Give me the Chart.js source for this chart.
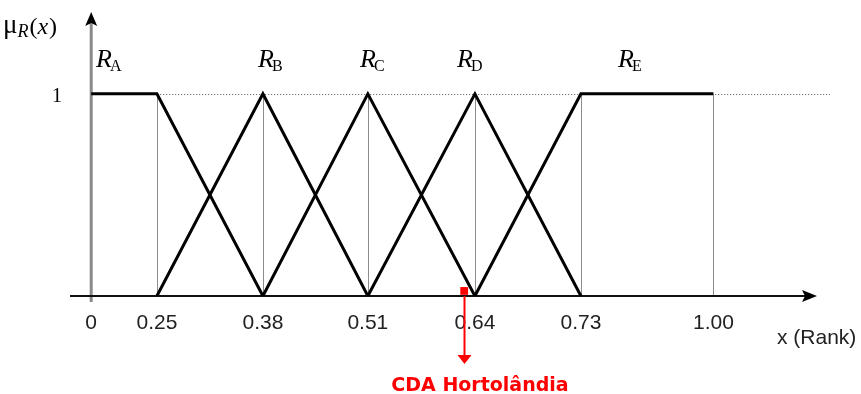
<!DOCTYPE html>
<html>
<head>
<meta charset="utf-8">
<script src="https://cdn.jsdelivr.net/npm/chart.js@4.4.1/dist/chart.umd.min.js"></script>
<style>
  html, body { margin: 0; padding: 0; background: #fff; }
  #wrap { width: 861px; height: 394px; }
</style>
</head>
<body>
<div id="wrap"><canvas id="chart"></canvas></div>
<script>
// breakpoints of the rank axis and their labels
const ranks = [0, 0.25, 0.38, 0.51, 0.64, 0.73, 1.00];
const tickLabels = ['0', '0.25', '0.38', '0.51', '0.64', '0.73', '1.00'];

// membership of each fuzzy set at every breakpoint (null = outside support)
const setNames = ['A', 'B', 'C', 'D', 'E'];
const muA = [1, 1, 0, null, null, null, null];
const muB = [null, 0, 1, 0, null, null, null];
const muC = [null, null, 0, 1, 0, null, null];
const muD = [null, null, null, 0, 1, 0, null];
const muE = [null, null, null, null, 0, 1, 1];

// the highlighted unit
const pointName = 'CDA Hortolândia';
const pointRank = [0.627];
const pointMu = [0.025];

// linear scale whose segments between breakpoints get their own widths
class RankScale extends Chart.LinearScale {
  _nodes() {
    const o = this.options;
    const v = [this.min].concat(o.breaks, [this.max]);
    const total = o.widths.reduce((a, b) => a + b, 0);
    const f = [0];
    o.widths.forEach(w => f.push(f[f.length - 1] + w / total));
    return { v, f };
  }
  getPixelForValue(value) {
    const { v, f } = this._nodes();
    let i = 0;
    while (i < v.length - 2 && value > v[i + 1]) i++;
    const t = (value - v[i]) / (v[i + 1] - v[i]);
    return this.getPixelForDecimal(f[i] + t * (f[i + 1] - f[i]));
  }
  getValueForPixel(pixel) {
    const { v, f } = this._nodes();
    const d = this.getDecimalForPixel(pixel);
    let i = 0;
    while (i < f.length - 2 && d > f[i + 1]) i++;
    const t = (d - f[i]) / (f[i + 1] - f[i]);
    return v[i] + t * (v[i + 1] - v[i]);
  }
}
RankScale.id = 'rank';
RankScale.defaults = {};
Chart.register(RankScale);

const allMu = [muA, muB, muC, muD, muE];
const datasets = setNames.map((name, k) => ({
  label: 'R' + name,
  data: ranks.map((x, i) => ({ x: x, y: allMu[k][i] })),
  borderColor: '#000',
  borderWidth: 3,
  borderJoinStyle: 'miter',
  pointRadius: 0,
  tension: 0,
  spanGaps: false,
  fill: false
}));
datasets.push({
  label: pointName,
  data: pointRank.map((x, i) => ({ x: x, y: pointMu[i] })),
  showLine: false,
  pointStyle: 'rect',
  pointRadius: 5.5,
  pointBackgroundColor: '#ff0000',
  pointBorderColor: '#ff0000',
  pointBorderWidth: 0
});

function arrowHead(ctx, x, y, dir, len, half) {
  ctx.beginPath();
  if (dir === 'up') {
    ctx.moveTo(x, y);
    ctx.lineTo(x - half, y + len);
    ctx.lineTo(x, y + len - 3);
    ctx.lineTo(x + half, y + len);
  } else if (dir === 'right') {
    ctx.moveTo(x, y);
    ctx.lineTo(x - len, y - half);
    ctx.lineTo(x - len + 3, y);
    ctx.lineTo(x - len, y + half);
  } else {
    ctx.moveTo(x, y);
    ctx.lineTo(x - half, y - len);
    ctx.lineTo(x + half, y - len);
  }
  ctx.closePath();
  ctx.fill();
}

const fuzzyDecor = {
  id: 'fuzzyDecor',
  beforeDatasetsDraw(chart) {
    const ctx = chart.ctx, xs = chart.scales.x, ys = chart.scales.y;
    const area = chart.chartArea;
    const y0 = ys.getPixelForValue(0), y1 = ys.getPixelForValue(1);
    const x0 = xs.getPixelForValue(0);
    ctx.save();
    // dotted level at membership 1
    ctx.strokeStyle = '#555';
    ctx.lineWidth = 1;
    ctx.setLineDash([1, 2]);
    ctx.beginPath();
    ctx.moveTo(x0, Math.round(y1) + 0.5);
    ctx.lineTo(area.right, Math.round(y1) + 0.5);
    ctx.stroke();
    ctx.setLineDash([]);
    // thin verticals at breakpoints
    ctx.strokeStyle = '#8c8c8c';
    ranks.slice(1).forEach(r => {
      const px = Math.round(xs.getPixelForValue(r)) + 0.5;
      ctx.beginPath();
      ctx.moveTo(px, y1);
      ctx.lineTo(px, y0);
      ctx.stroke();
    });
    // y axis
    ctx.strokeStyle = '#8a8a8a';
    ctx.fillStyle = '#000';
    ctx.lineWidth = 3;
    ctx.beginPath();
    ctx.moveTo(x0, y0 + 6);
    ctx.lineTo(x0, area.top + 8);
    ctx.stroke();
    arrowHead(ctx, x0, area.top - 1, 'up', 14, 6);
    // x axis
    ctx.strokeStyle = '#111';
    ctx.lineWidth = 2;
    ctx.beginPath();
    ctx.moveTo(area.left, y0);
    ctx.lineTo(area.right - 18, y0);
    ctx.stroke();
    arrowHead(ctx, area.right - 13, y0, 'right', 15, 6);
    ctx.restore();
  },
  afterDraw(chart) {
    const ctx = chart.ctx, xs = chart.scales.x, ys = chart.scales.y;
    ctx.save();
    // arrow and name under the highlighted unit
    const px = Math.round(xs.getPixelForValue(pointRank[0])) + 0.5;
    const py = ys.getPixelForValue(pointMu[0]);
    ctx.strokeStyle = '#ff0000';
    ctx.fillStyle = '#ff0000';
    ctx.lineWidth = 2;
    ctx.beginPath();
    ctx.moveTo(px, py + 5);
    ctx.lineTo(px, 357);
    ctx.stroke();
    arrowHead(ctx, px, 364, 'down', 9, 7);
    ctx.font = 'bold 19px "DejaVu Sans"';
    ctx.textAlign = 'center';
    ctx.textBaseline = 'alphabetic';
    ctx.fillText(pointName, 480, 391);

    // set labels R_A ... R_E
    ctx.fillStyle = '#000';
    ctx.textAlign = 'left';
    const labelX = [96, 258, 360, 457, 618];
    setNames.forEach((n, k) => {
      ctx.font = 'italic 26px "Liberation Serif"';
      ctx.fillText('R', labelX[k], 67);
      const w = ctx.measureText('R').width;
      ctx.font = '16px "Liberation Serif"';
      ctx.fillText(n, labelX[k] + w - 2, 71);
    });

    // y axis title mu_R(x)
    let x = 3;
    ctx.font = '27px "Liberation Serif"';
    ctx.fillText('\u03bc', x, 33);
    x += ctx.measureText('\u03bc').width;
    ctx.font = 'italic 18px "Liberation Serif"';
    ctx.fillText('R', x, 37);
    x += ctx.measureText('R').width + 1;
    ctx.font = '24px "Liberation Serif"';
    ctx.fillText('(', x, 34);
    x += ctx.measureText('(').width;
    ctx.font = 'italic 24px "Liberation Serif"';
    ctx.fillText('x', x, 34);
    x += ctx.measureText('x').width + 1;
    ctx.font = '24px "Liberation Serif"';
    ctx.fillText(')', x, 34);

    // x axis title
    ctx.font = '21px "Liberation Sans"';
    ctx.fillStyle = '#222';
    ctx.fillText('x (Rank)', 777, 344);
    ctx.restore();
  }
};

function noEdgePadding(s) {
  s.paddingTop = 0;
  s.paddingBottom = 0;
  s.paddingLeft = 0;
  s.paddingRight = 0;
}

const config = {
  type: 'line',
  data: { datasets: datasets },
  plugins: [fuzzyDecor],
  options: {
    responsive: true,
    maintainAspectRatio: false,
    animation: false,
    events: [],
    layout: { padding: { top: 13, right: 31, left: 0, bottom: 0 } },
    plugins: {
      legend: { display: false },
      tooltip: { enabled: false },
      title: { display: false }
    },
    scales: {
      x: {
        type: 'rank',
        min: -0.1,
        max: 1.3,
        breaks: ranks,
        widths: [0.2, 0.62, 1, 0.99, 1.01, 1, 1.25, 1.1],
        afterBuildTicks: s => { s.ticks = ranks.map(v => ({ value: v })); },
        afterFit: s => { s.height = 98; noEdgePadding(s); },
        grid: { display: false, drawTicks: false },
        border: { display: false },
        ticks: {
          autoSkip: false,
          maxRotation: 0,
          padding: 15,
          color: '#222',
          font: { family: 'Liberation Sans', size: 21 },
          callback: (v, i) => tickLabels[i]
        }
      },
      y: {
        type: 'linear',
        min: 0,
        max: 1.4,
        afterBuildTicks: s => { s.ticks = [{ value: 1 }]; },
        afterFit: s => { s.width = 70; noEdgePadding(s); },
        grid: { display: false, drawTicks: false },
        border: { display: false },
        ticks: {
          padding: 8,
          labelOffset: 3,
          color: '#000',
          font: { family: 'Liberation Serif', size: 20 },
          callback: () => '1'
        }
      }
    }
  }
};

const chart = new Chart(document.getElementById('chart'), config);
</script>
</body>
</html>
